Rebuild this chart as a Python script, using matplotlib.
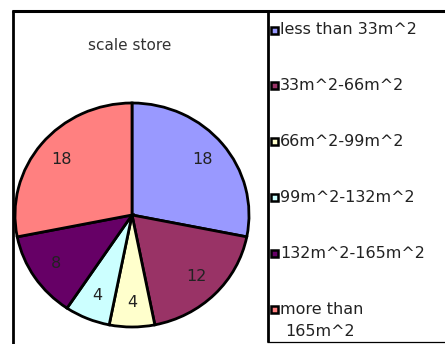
import matplotlib
matplotlib.use("Agg")
import matplotlib.pyplot as plt
from matplotlib.patches import Rectangle

title = "scale store"
categories = ["less than 33m^2", "33m^2-66m^2", "66m^2-99m^2",
              "99m^2-132m^2", "132m^2-165m^2", "more than\n165m^2"]
values = [18, 12, 4, 4, 8, 18]
colors = ["#9999FF", "#993366", "#FFFFCC", "#CCFFFF", "#660066", "#FF8080"]

W, H = 445, 344
fig = plt.figure(figsize=(W / 100, H / 100), dpi=100)
fig.patch.set_facecolor("white")

# overlay axes in pixel coordinates
ov = fig.add_axes([0, 0, 1, 1])
ov.set_xlim(0, W)
ov.set_ylim(H, 0)
ov.axis("off")

# frame lines
ov.plot([12, W + 5], [10.5, 10.5], color="black", lw=2.2, solid_capstyle="butt")
ov.plot([13, 13], [10, H + 5], color="black", lw=2.0, solid_capstyle="butt")
ov.plot([267.5, 267.5], [10, 342], color="black", lw=2.0, solid_capstyle="butt")
ov.plot([267, W + 5], [341.5, 341.5], color="black", lw=0.9, solid_capstyle="butt")

txtcol = "#222222"
ov.text(130, 45, title, ha="center", va="center", fontsize=11, color="#333333")

# legend
ys = [30, 85, 141, 197, 253, 309]
fs = 11.5
for y, lab, c in zip(ys, categories, colors):
    ov.add_patch(Rectangle((270.5, y - 3.5), 7, 7, facecolor=c, edgecolor="black", lw=1.8))
    if "\n" in lab:
        first, second = lab.split("\n")
        ov.text(280, y, first, ha="left", va="center", fontsize=fs, color=txtcol)
        ov.text(285, y + 23, second, ha="left", va="center", fontsize=fs, color=txtcol)
    else:
        ov.text(280, y, lab, ha="left", va="center", fontsize=fs, color=txtcol)

# pie axes (slightly elliptical)
cx, cy, rx, ry = 132, 215, 117, 112
ax = fig.add_axes([(cx - rx) / W, (H - cy - ry) / H, 2 * rx / W, 2 * ry / H])
total = sum(values)
wedges, texts, autotexts = ax.pie(
    values, colors=colors, startangle=90, counterclock=False,
    wedgeprops=dict(edgecolor="black", linewidth=2.0),
    autopct=lambda p: f"{round(p * total / 100):d}", pctdistance=0.78,
    textprops=dict(fontsize=fs, color=txtcol))
for w in wedges:
    w.set_clip_on(False)
ax.set_aspect("auto")
ax.set_xlim(-1, 1)
ax.set_ylim(-1, 1)
ax.axis("off")

fig.savefig("out.png", dpi=100)
